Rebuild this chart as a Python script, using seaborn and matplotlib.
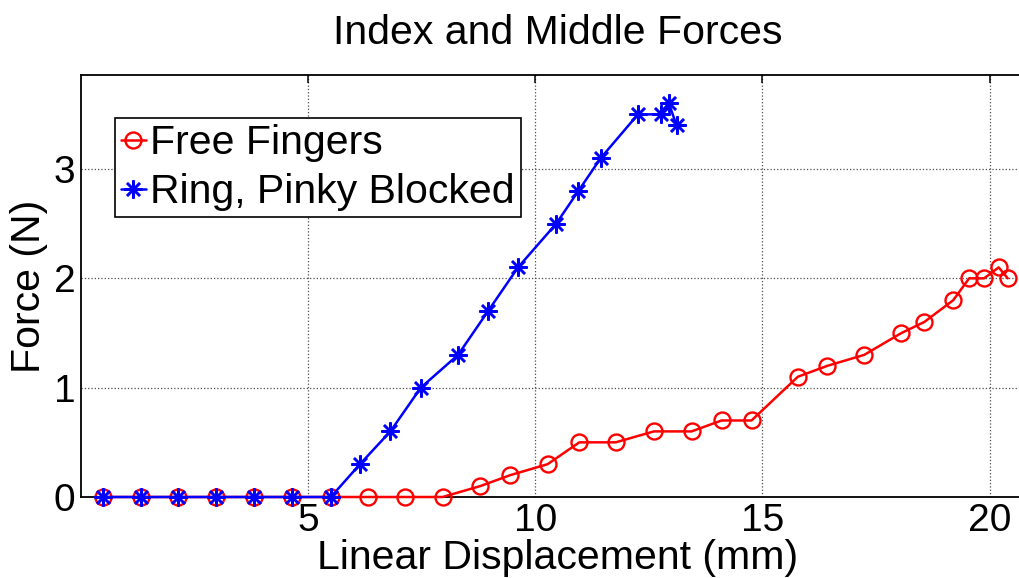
import numpy as np
import pandas as pd
import matplotlib
matplotlib.use("Agg")
import matplotlib.pyplot as plt
import seaborn as sns

# ---- data ----
free_x = [0.49, 1.32, 2.14, 2.97, 3.80, 4.64, 5.50, 6.31, 7.13, 7.96, 8.79, 9.45,
          10.27, 10.97, 11.77, 12.61, 13.44, 14.10, 14.76, 15.78, 16.43, 17.24,
          18.06, 18.56, 19.20, 19.55, 19.88, 20.20, 20.40]
free_y = [0, 0, 0, 0, 0, 0, 0, 0, 0, 0, 0.1, 0.2,
          0.3, 0.5, 0.5, 0.6, 0.6, 0.7, 0.7, 1.1, 1.2, 1.3,
          1.5, 1.6, 1.8, 2.0, 2.0, 2.1, 2.0]

blocked_x = [0.49, 1.32, 2.14, 2.97, 3.80, 4.64, 5.50, 6.14, 6.81, 7.48, 8.30,
             8.96, 9.62, 10.46, 10.95, 11.44, 12.26, 12.76, 12.94, 13.11]
blocked_y = [0, 0, 0, 0, 0, 0, 0, 0.3, 0.6, 1.0, 1.3,
             1.7, 2.1, 2.5, 2.8, 3.1, 3.5, 3.5, 3.6, 3.4]

series_names = ["Free Fingers", "Ring, Pinky Blocked"]
x_ticks = [5, 10, 15, 20]
y_ticks = [0, 1, 2, 3]
title = "Index and Middle Forces"
x_label = "Linear Displacement (mm)"
y_label = "Force (N)"

sns.set_style("white")
plt.rcParams["font.family"] = ["Liberation Sans", "DejaVu Sans"]
plt.rcParams.update({"text.color": "black", "axes.labelcolor": "black",
                     "xtick.color": "black", "ytick.color": "black"})

fig = plt.figure(figsize=(10.2, 5.78), dpi=100)
ax = fig.add_axes([81 / 1020, 81 / 578, 954 / 1020, 422 / 578])

df_free = pd.DataFrame({"x": free_x, "y": free_y})
df_blk = pd.DataFrame({"x": blocked_x, "y": blocked_y})

sns.lineplot(data=df_free, x="x", y="y", ax=ax, color="#ff0000", marker="o",
             markersize=11.5, markerfacecolor="none", markeredgecolor="#ff0000",
             markeredgewidth=1.7, linewidth=1.8, sort=False, estimator=None,
             label=series_names[0], clip_on=False, zorder=3)
sns.lineplot(data=df_blk, x="x", y="y", ax=ax, color="#0000ff", marker=(8, 2, 0),
             markersize=13, markeredgecolor="#0000ff", markeredgewidth=1.8,
             linewidth=1.8, sort=False, estimator=None, label=series_names[1],
             clip_on=False, zorder=4)

ax.set_xlim(0, 21)
ax.set_ylim(0, 3.86)
ax.set_xticks(x_ticks)
ax.set_yticks(y_ticks)
ax.grid(True, color="0.3", linestyle=":", linewidth=0.9)
ax.set_axisbelow(True)
ax.tick_params(direction="in", length=6, width=1.1, labelsize=28, pad=4,
               top=True, right=True, colors="black")
for s in ax.spines.values():
    s.set_color("black")
    s.set_linewidth(1.3)

ax.set_title(title, fontsize=29.5, pad=22)
ax.set_xlabel(x_label, fontsize=29.5, labelpad=0)
ax.set_ylabel(y_label, fontsize=29.5, labelpad=4)

leg = ax.legend(loc="upper left", bbox_to_anchor=(0.0356, 0.898), borderaxespad=0,
                fontsize=29.5, frameon=True, fancybox=False, framealpha=1,
                edgecolor="black", handlelength=0.6, handletextpad=0.1,
                borderpad=0.15, labelspacing=0.26)
leg.get_frame().set_linewidth(1.2)
leg.set_zorder(10)

fig.savefig("out.png", dpi=100)
